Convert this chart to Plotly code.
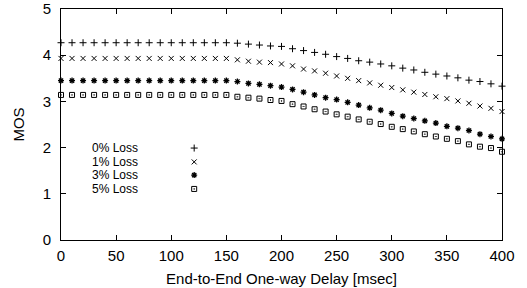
import plotly.graph_objects as go

# ---- data ----
delay_ms = list(range(0, 401, 10))

mos_0 = [4.27] * 16 + [4.26, 4.24, 4.22, 4.20, 4.19, 4.14, 4.10, 4.06, 4.02, 3.97,
                       3.93, 3.88, 3.85, 3.81, 3.77, 3.72, 3.68, 3.63, 3.59, 3.55,
                       3.51, 3.46, 3.43, 3.38, 3.33]
mos_1 = [3.93] * 16 + [3.90, 3.87, 3.85, 3.84, 3.81, 3.77, 3.70, 3.66, 3.61, 3.55,
                       3.50, 3.45, 3.40, 3.35, 3.30, 3.25, 3.20, 3.15, 3.10, 3.06,
                       3.01, 2.96, 2.90, 2.85, 2.78]
mos_3 = [3.45] * 16 + [3.43, 3.39, 3.37, 3.34, 3.31, 3.26, 3.20, 3.14, 3.08, 3.04,
                       2.98, 2.92, 2.86, 2.81, 2.74, 2.68, 2.63, 2.58, 2.53, 2.46,
                       2.42, 2.37, 2.29, 2.24, 2.19]
mos_5 = [3.14] * 16 + [3.10, 3.08, 3.06, 3.03, 3.01, 2.94, 2.89, 2.83, 2.78, 2.72,
                       2.67, 2.61, 2.56, 2.51, 2.45, 2.40, 2.35, 2.29, 2.24, 2.19,
                       2.14, 2.07, 2.02, 1.99, 1.91]

series_names = ["0% Loss", "1% Loss", "3% Loss", "5% Loss"]
series_values = [mos_0, mos_1, mos_3, mos_5]

x_ticks = [0, 50, 100, 150, 200, 250, 300, 350, 400]
y_ticks = [0, 1, 2, 3, 4, 5]

# ---- styles ----
FONT = "Liberation Sans, Arial, Helvetica, sans-serif"
FS = 15
LEG_FS = 12
marker_styles = [
    dict(symbol="cross-thin-open", size=5, line=dict(width=1, color="black")),
    dict(symbol="x-thin-open", size=5, line=dict(width=1, color="black")),
    dict(symbol="asterisk-open", size=5, line=dict(width=1.3, color="black")),
    dict(symbol="square-open-dot", size=5, line=dict(width=1, color="black")),
]
# legend layout (paper fractions inside plot area)
LEGEND_TEXT_X = 0.068
LEGEND_KEY_X = 0.302
LEGEND_ROWS_Y = [0.398, 0.338, 0.281, 0.221]

fig = go.Figure()
for name, vals, ms in zip(series_names, series_values, marker_styles):
    fig.add_trace(go.Scatter(x=delay_ms, y=vals, mode="markers", name=name,
                             marker=dict(color="black", **ms), showlegend=False,
                             cliponaxis=False))

# legend keys on an overlay axis spanning the plot area (0..1)
for name, ms, ry in zip(series_names, marker_styles, LEGEND_ROWS_Y):
    fig.add_trace(go.Scatter(x=[LEGEND_KEY_X], y=[ry], mode="markers",
                             marker=dict(color="black", **ms), showlegend=False,
                             xaxis="x2", yaxis="y2", hoverinfo="skip"))
    fig.add_annotation(x=LEGEND_TEXT_X, y=ry, xref="paper", yref="paper",
                       text=name, showarrow=False, xanchor="left", yanchor="middle",
                       borderpad=0,
                       font=dict(family=FONT, size=LEG_FS, color="black"))

axis_common = dict(showline=True, linecolor="black", linewidth=1, mirror="ticks",
                   ticks="inside", ticklen=5, tickcolor="black", showgrid=False,
                   zeroline=False, automargin=False,
                   tickfont=dict(family=FONT, size=FS, color="black"))

fig.update_layout(
    width=527, height=288,
    margin=dict(l=61, r=25, t=9, b=48),
    paper_bgcolor="white", plot_bgcolor="white",
    font=dict(family=FONT, size=FS, color="black"),
    xaxis=dict(range=[0, 400], tickvals=x_ticks, ticktext=[str(v) for v in x_ticks],
               ticklabelstandoff=2,
               title=dict(text="End-to-End One-way Delay [msec]", standoff=10,
                          font=dict(family=FONT, size=FS)),
               **axis_common),
    yaxis=dict(range=[0, 5], tickvals=y_ticks, ticktext=[str(v) for v in y_ticks],
               ticklabelstandoff=6,
               title=dict(text="MOS", standoff=14, font=dict(family=FONT, size=FS)),
               **axis_common),
    xaxis2=dict(range=[0, 1], overlaying="x", visible=False, fixedrange=True),
    yaxis2=dict(range=[0, 1], overlaying="y", visible=False, fixedrange=True),
    showlegend=False,
)

fig.write_html("out.html",
               config={"displayModeBar": False},
               post_script="document.body.style.margin='0';"
                           "document.body.style.overflow='hidden';")
